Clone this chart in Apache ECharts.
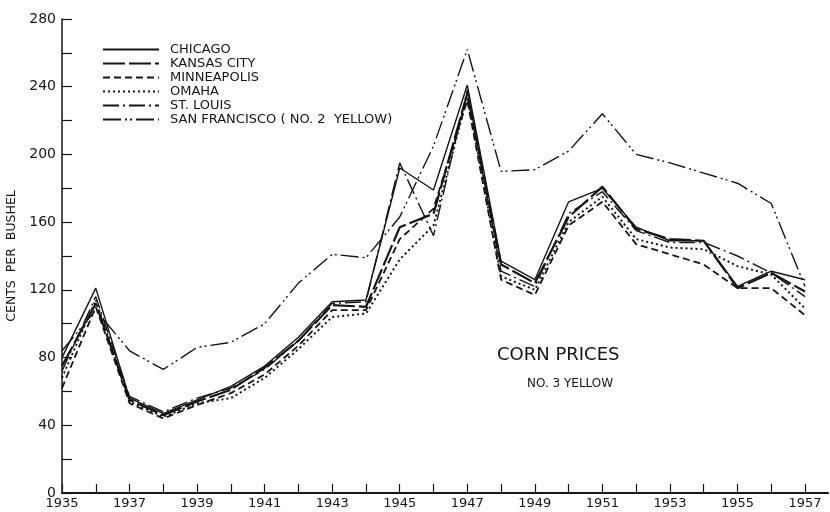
<!DOCTYPE html>
<html><head><meta charset="utf-8">
<script src="https://cdn.jsdelivr.net/npm/echarts@6/dist/echarts.min.js"></script>
<style>html,body{margin:0;padding:0;background:#fff}#c{width:830px;height:512px}</style>
</head><body><div id="c"></div>
<script>
var years = [1935,1936,1937,1938,1939,1940,1941,1942,1943,1944,1945,1946,1947,1948,1949,1950,1951,1952,1953,1954,1955,1956,1957];
var yearLabels = [1935,1937,1939,1941,1943,1945,1947,1949,1951,1953,1955,1957];
var yTicks = [0,40,80,120,160,200,240,280];
var chicago      = [80,121,56,47,55,63,75,92,113,114,192,179,241,137,126,172,180,157,149,149,122,131,126];
var kansasCity   = [75,112,55,46,54,61,74,90,111,110,157,165,236,135,124,163,181,156,150,149,121,130,119];
var minneapolis  = [62,110,53,44,52,59,70,87,108,108,150,168,232,126,117,158,172,147,141,135,121,121,105];
var omaha        = [68,114,54,45,53,56,68,85,104,106,138,158,234,128,120,160,175,150,145,144,134,129,109];
var stLouis      = [72,116,57,48,56,62,73,90,112,113,195,152,238,131,122,165,178,155,148,148,140,130,116];
var sanFrancisco = [84,108,84,73,86,89,100,124,141,139,163,205,262,190,191,202,224,200,195,189,183,171,122];
var seriesNames = ['CHICAGO','KANSAS CITY','MINNEAPOLIS','OMAHA','ST. LOUIS','SAN FRANCISCO ( NO. 2  YELLOW)'];

var ink = '#151515';
var FONT = 'DejaVu Sans';
function pairs(vals){ return years.map(function(y,i){ return [y, vals[i]]; }); }
function mk(name, vals, width, type){
  return {name:name, type:'line', data:pairs(vals), symbol:'none', smooth:false,
    lineStyle:{color:ink, width:width, type:type, cap:'butt'}, itemStyle:{color:ink}, emphasis:{disabled:true}};
}
var chart = echarts.init(document.getElementById('c'));
chart.setOption({
  animation:false,
  backgroundColor:'#fff',
  grid:{left:62, right:2, top:19, bottom:19, containLabel:false, outerBoundsMode:'none'},
  legend:{orient:'vertical', left:102, top:43, padding:0, itemGap:1, itemWidth:56, itemHeight:13,
    itemStyle:{opacity:0},
    textStyle:{fontFamily:FONT, fontSize:13, color:ink, padding:[0,0,0,6]},
    data:seriesNames.map(function(n){return {name:n};})},
  xAxis:{type:'value', min:1935, max:1957.68,
    axisLine:{lineStyle:{color:ink, width:2}},
    axisTick:{inside:true, length:9, lineStyle:{color:ink, width:1.2}, customValues:years},
    axisLabel:{customValues:yearLabels, color:ink, fontFamily:FONT, fontSize:13, margin:4, formatter:function(v){return String(v);}},
    splitLine:{show:false}},
  yAxis:{type:'value', min:0, max:280, interval:20,
    name:'CENTS  PER  BUSHEL', nameLocation:'middle', nameGap:40, nameRotate:90,
    nameTextStyle:{color:ink, fontFamily:FONT, fontSize:12.5},
    axisLine:{show:true, lineStyle:{color:ink, width:1.5}},
    axisTick:{inside:true, length:10, lineStyle:{color:ink, width:1.2}},
    axisLabel:{customValues:yTicks, color:ink, fontFamily:FONT, fontSize:14, margin:6},
    splitLine:{show:false}},
  graphic:[
    {type:'text', left:497, top:346, style:{text:'CORN PRICES', font:'18px "DejaVu Sans"', fill:ink}},
    {type:'text', left:527, top:378, style:{text:'NO. 3 YELLOW', font:'12px "DejaVu Sans"', fill:ink}}
  ],
  series:[
    mk(seriesNames[0], chicago, 1.4, 'solid'),
    mk(seriesNames[1], kansasCity, 2.2, [22,4]),
    mk(seriesNames[2], minneapolis, 1.8, [7,4]),
    mk(seriesNames[3], omaha, 2, [2,3]),
    mk(seriesNames[4], stLouis, 1.4, [16,4,2,4]),
    mk(seriesNames[5], sanFrancisco, 1.4, [18,4,2,3,2,4])
  ]
});
</script></body></html>
